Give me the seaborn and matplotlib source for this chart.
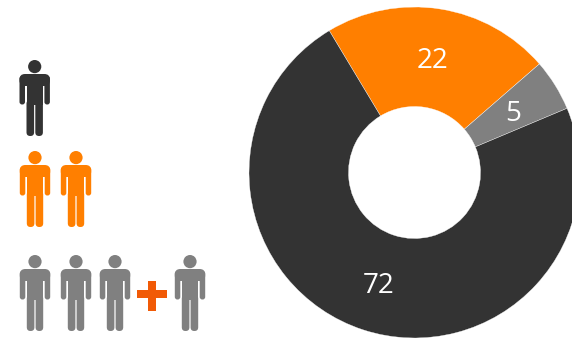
import matplotlib
matplotlib.use("Agg")
import matplotlib.pyplot as plt
import seaborn as sns
from matplotlib.patches import Circle, FancyBboxPatch, Rectangle
from matplotlib.transforms import ScaledTranslation

sns.set_theme(style="white")
plt.rcParams['font.family'] = ['Open Sans', 'DejaVu Sans']

values = [22, 5, 72]
segment_colors = ["#FF7F00", "#808080", "#333333"]
icon_colors = ["#333333", "#FF7F00", "#808080"]
icon_rows = [[34.7], [35, 76], [35, 76, 115, 190]]
icon_tops = [60, 151, 255]
plus_color = "#F15A06"

W, H = 572, 338
fig = plt.figure(figsize=(W / 100, H / 100), dpi=100, facecolor="white")

# donut (extends past the right edge of the figure, as in the reference)
cx, cy, r, hole = 414.5, 172.5, 165.5, 66
ax = fig.add_axes([(cx - r) / W, 1 - (cy + r) / H, 2 * r / W, 2 * r / H])
_, _, labels = ax.pie(values, colors=segment_colors, startangle=121, counterclock=False, radius=1,
                      wedgeprops=dict(width=1 - hole / r, edgecolor="white", linewidth=0.25),
                      autopct=lambda p: f"{p * sum(values) / 100:.0f}", pctdistance=0.70,
                      textprops=dict(color="white", fontsize=20))
nudge = ScaledTranslation(0, -2.2 / 72, fig.dpi_scale_trans)
for t in labels:
    t.set_transform(t.get_transform() + nudge)
ax.set_xlim(-1, 1)
ax.set_ylim(-1, 1)
ax.set_aspect("equal")
ax.axis("off")
ax.patch.set_alpha(0)

# pictograms, in pixel coordinates
ov = fig.add_axes([0, 0, 1, 1], facecolor="none")
ov.set_xlim(0, W)
ov.set_ylim(H, 0)
ov.axis("off")


def rrect(x0, y0, x1, y1, rad, color):
    ov.add_patch(FancyBboxPatch((x0 + rad, y0 + rad), x1 - x0 - 2 * rad, y1 - y0 - 2 * rad,
                                boxstyle=f"round,pad={rad},rounding_size={rad}",
                                fc=color, ec="none"))


def person(xc, top, color):
    ov.add_patch(Circle((xc, top + 6.6), 6.6, fc=color, ec="none"))
    # shoulders and arms
    rrect(xc - 15.2, top + 14, xc + 15.2, top + 26, 5.5, color)
    rrect(xc - 15.2, top + 16, xc - 9.7, top + 44.5, 2.6, color)
    rrect(xc + 9.7, top + 16, xc + 15.2, top + 44.5, 2.6, color)
    # torso
    ov.add_patch(Rectangle((xc - 8.2, top + 18), 16.4, 27, fc=color, ec="none"))
    # legs
    rrect(xc - 8.2, top + 40, xc - 0.6, top + 76, 3.7, color)
    rrect(xc + 0.6, top + 40, xc + 8.2, top + 76, 3.7, color)


for xs, top, color in zip(icon_rows, icon_tops, icon_colors):
    for x in xs:
        person(x, top, color)

ov.add_patch(Rectangle((137, 290), 30, 8, fc=plus_color, ec="none"))
ov.add_patch(Rectangle((148, 280.5), 8, 30, fc=plus_color, ec="none"))

fig.savefig("out.png", dpi=100, facecolor="white")
